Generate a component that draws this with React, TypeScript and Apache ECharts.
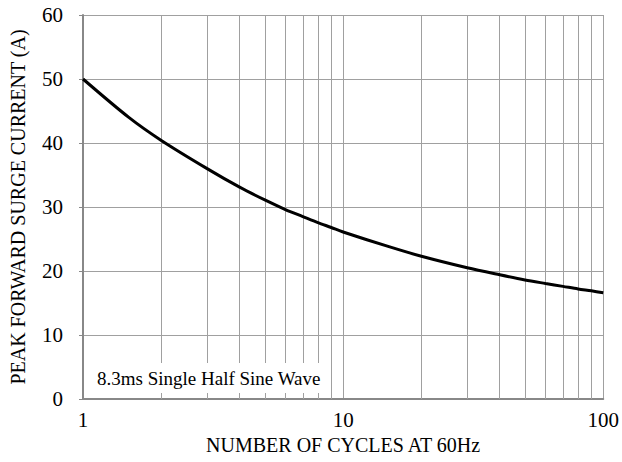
import React, { useEffect, useRef } from "react";
import * as echarts from "echarts";

const cycles = [1, 1.5, 2, 3, 4, 5, 6, 7, 8, 9, 10, 15, 20, 30, 40, 50, 60, 70, 80, 90, 100];
const current = [50, 44.0, 40.4, 36.0, 33.1, 31.1, 29.6, 28.5, 27.55, 26.8, 26.1, 23.8, 22.3, 20.5, 19.4, 18.6, 18.05, 17.6, 17.2, 16.9, 16.6];
const minorGrid = [2, 3, 4, 5, 6, 7, 8, 9, 20, 30, 40, 50, 60, 70, 80, 90];
const yTicks = [0, 10, 20, 30, 40, 50, 60];
const note = "8.3ms Single Half Sine Wave";
const xName = "NUMBER OF CYCLES AT 60Hz";
const yName = "PEAK FORWARD SURGE CURRENT (A)";

const FONT = "Liberation Serif";

export default function App() {
  const ref = useRef<HTMLDivElement>(null);
  useEffect(() => {
    document.body.style.margin = "0";
    if (!ref.current) return;
    const chart = echarts.init(ref.current, undefined, { renderer: "svg" });
    chart.setOption({
      animation: false,
      backgroundColor: "#fff",
      textStyle: { fontFamily: FONT },
      grid: { left: 83, top: 15, right: 15, bottom: 63, containLabel: false },
      xAxis: {
        type: "log",
        logBase: 10,
        min: 1,
        max: 100,
        name: xName,
        nameLocation: "middle",
        nameGap: 31,
        nameTextStyle: { fontFamily: FONT, fontSize: 20, color: "#000" },
        axisLine: { show: true, lineStyle: { color: "#888", width: 2 } },
        axisTick: { show: false },
        axisLabel: { fontFamily: FONT, fontSize: 21, color: "#000", margin: 10 },
        splitLine: { show: true, lineStyle: { color: "#a0a0a0", width: 1 } },
      },
      yAxis: {
        type: "value",
        min: yTicks[0],
        max: yTicks[yTicks.length - 1],
        interval: 10,
        name: yName,
        nameLocation: "middle",
        nameGap: 55,
        nameTextStyle: { fontFamily: FONT, fontSize: 20, color: "#000" },
        axisLine: { show: true, lineStyle: { color: "#888", width: 2 } },
        axisTick: { show: true, length: 4, lineStyle: { color: "#888" } },
        axisLabel: { fontFamily: FONT, fontSize: 21, color: "#000", margin: 20 },
        splitLine: { show: true, lineStyle: { color: "#a0a0a0", width: 1 } },
      },
      series: [
        {
          type: "line",
          data: cycles.map((c, i) => [c, current[i]]),
          smooth: 0.3,
          showSymbol: false,
          lineStyle: { color: "#000", width: 3 },
          z: 5,
          markLine: {
            silent: true,
            symbol: "none",
            label: { show: false },
            lineStyle: { color: "#a0a0a0", width: 1, type: "solid" },
            data: minorGrid.map((v) => ({ xAxis: v })),
            z: 1,
          },
        },
      ],
      graphic: [
        {
          type: "rect",
          shape: { x: 84, y: 363, width: 236, height: 30 },
          style: { fill: "#fff" },
          z: 10,
        },
        {
          type: "text",
          x: 97,
          y: 378,
          style: {
            text: note,
            fontFamily: FONT,
            fontSize: 19,
            fill: "#000",
            verticalAlign: "middle",
          },
          z: 11,
        },
      ],
    });
    return () => chart.dispose();
  }, []);
  return <div ref={ref} style={{ width: 622, height: 462 }} />;
}
